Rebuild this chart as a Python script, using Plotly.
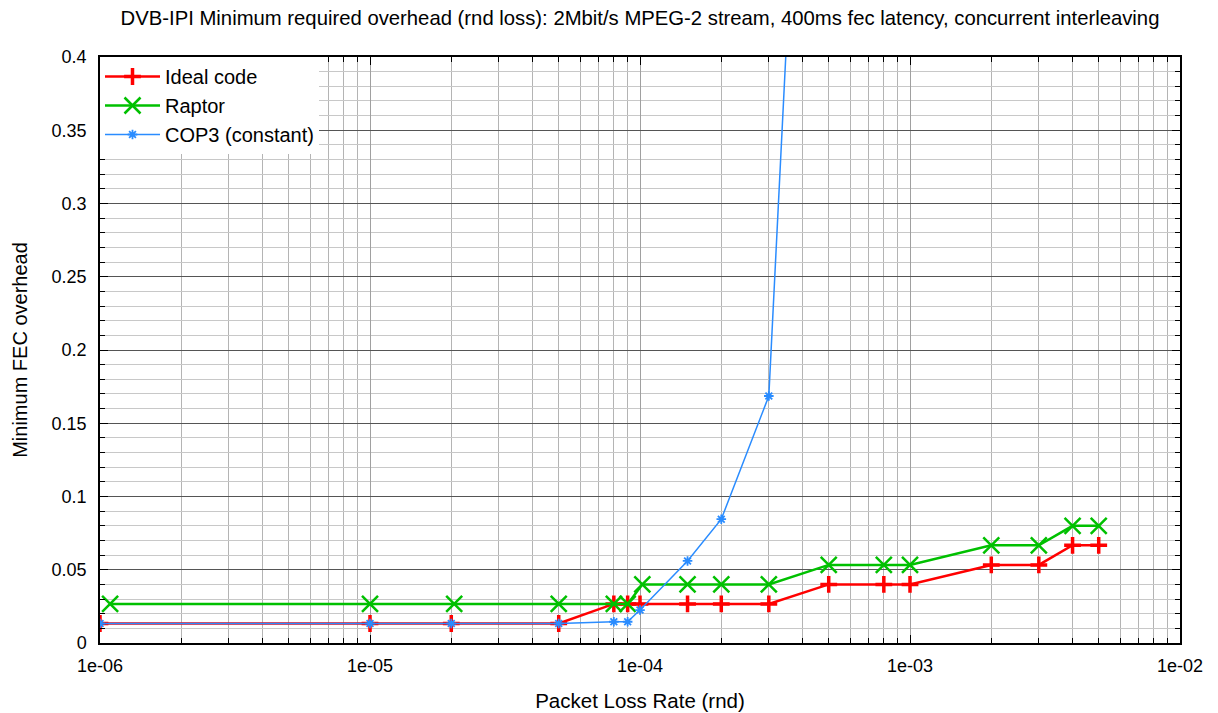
import plotly.graph_objects as go

# ---- data ----
ideal_x = [1e-6, 1e-5, 2e-5, 5e-5, 8e-5, 9e-5, 1e-4, 1.5e-4, 2e-4, 3e-4, 5e-4, 8e-4, 1e-3, 2e-3, 3e-3, 4e-3, 5e-3]
ideal_y = [0.0133, 0.0133, 0.0133, 0.0133, 0.0267, 0.0267, 0.0267, 0.0267, 0.0267, 0.0267,
           0.04, 0.04, 0.04, 0.0533, 0.0533, 0.0667, 0.0667]

raptor_x = [1.09e-6, 1e-5, 2.05e-5, 5e-5, 8e-5, 9e-5, 1.02e-4, 1.5e-4, 2e-4, 3e-4, 5e-4, 8e-4, 1e-3, 2e-3, 3e-3, 4e-3, 5e-3]
raptor_y = [0.0267, 0.0267, 0.0267, 0.0267, 0.0267, 0.0267, 0.04, 0.04, 0.04, 0.04,
            0.0533, 0.0533, 0.0533, 0.0667, 0.0667, 0.08, 0.08]

cop3_x = [1e-6, 1e-5, 2e-5, 5e-5, 8e-5, 9e-5, 1e-4, 1.5e-4, 2e-4, 3e-4, 4e-4]
cop3_y = [0.0133, 0.0133, 0.0133, 0.0133, 0.0145, 0.0145, 0.0225, 0.056, 0.0845, 0.1686, 0.63]

x_major = [1e-6, 1e-5, 1e-4, 1e-3, 1e-2]
x_labels = ["1e-06", "1e-05", "1e-04", "1e-03", "1e-02"]
x_minor = [m * d for d in [1e-6, 1e-5, 1e-4, 1e-3] for m in range(2, 10)]
y_major = [0, 0.05, 0.1, 0.15, 0.2, 0.25, 0.3, 0.35, 0.4]
y_labels = ["0", "0.05", "0.1", "0.15", "0.2", "0.25", "0.3", "0.35", "0.4"]
y_minor = [i / 100 for i in range(0, 41)]

title = "DVB-IPI Minimum required overhead (rnd loss): 2Mbit/s MPEG-2 stream, 400ms fec latency, concurrent interleaving"

# ---- figure ----
fig = go.Figure()
fig.add_trace(go.Scatter(
    x=ideal_x, y=ideal_y, name="Ideal code", mode="lines+markers",
    line=dict(color="#ff0000", width=2.5),
    marker=dict(symbol="cross-thin", size=12, line=dict(color="#ff0000", width=3.5)),
))
fig.add_trace(go.Scatter(
    x=raptor_x, y=raptor_y, name="Raptor", mode="lines+markers",
    line=dict(color="#00c000", width=2.5),
    marker=dict(symbol="x-thin", size=16, line=dict(color="#00c000", width=2.5)),
))
fig.add_trace(go.Scatter(
    x=cop3_x, y=cop3_y, name="COP3 (constant)", mode="lines+markers",
    line=dict(color="#2a8cff", width=1.5),
    marker=dict(symbol="asterisk", size=8, line=dict(color="#2a8cff", width=1.8)),
))

font = "Liberation Sans, Arial, sans-serif"
W, H = 1210, 705  # page has an 8px body margin
fig.update_layout(
    width=W, height=H,
    margin=dict(l=92, r=38, t=49, b=70),
    paper_bgcolor="white", plot_bgcolor="white",
    font=dict(family=font, size=18, color="#000000"),
    title=dict(text=title, x=(640 - 8) / W, xanchor="center", xref="container",
               y=1 - 10 / H, yanchor="middle", yref="container",
               font=dict(size=20.3)),
    showlegend=True,
    legend=dict(x=0, y=1, xanchor="left", yanchor="top", bgcolor="white",
                borderwidth=0, font=dict(size=20), itemwidth=55,
                tracegroupgap=0),
)
fig.update_xaxes(
    type="log", range=[-6, -2], automargin=False,
    tickmode="array", tickvals=x_major, ticktext=x_labels,
    showgrid=True, gridcolor="#a0a0a0", gridwidth=1,
    showline=True, linecolor="black", linewidth=1.5, mirror="ticks",
    ticks="inside", ticklen=8, tickcolor="black", ticklabelstandoff=6,
    zeroline=False,
    minor=dict(tickmode="array", tickvals=x_minor, showgrid=True, gridcolor="#b4b4b4",
               gridwidth=1, ticks="inside", ticklen=5, tickcolor="black"),
    title=dict(text="Packet Loss Rate (rnd)", standoff=18, font=dict(size=20.5)),
)
fig.update_yaxes(
    range=[0, 0.4], automargin=False,
    tickmode="array", tickvals=y_major, ticktext=y_labels,
    showgrid=True, gridcolor="#555555", gridwidth=1,
    showline=True, linecolor="black", linewidth=1.5, mirror="ticks",
    ticks="inside", ticklen=8, tickcolor="black", ticklabelstandoff=8,
    zeroline=False,
    minor=dict(tickmode="array", tickvals=y_minor, showgrid=True, gridcolor="#c8c8c8",
               gridwidth=1, ticks="inside", ticklen=5, tickcolor="black"),
    title=dict(text="Minimum FEC overhead", standoff=19, font=dict(size=20)),
)

fig.write_html("out.html")
